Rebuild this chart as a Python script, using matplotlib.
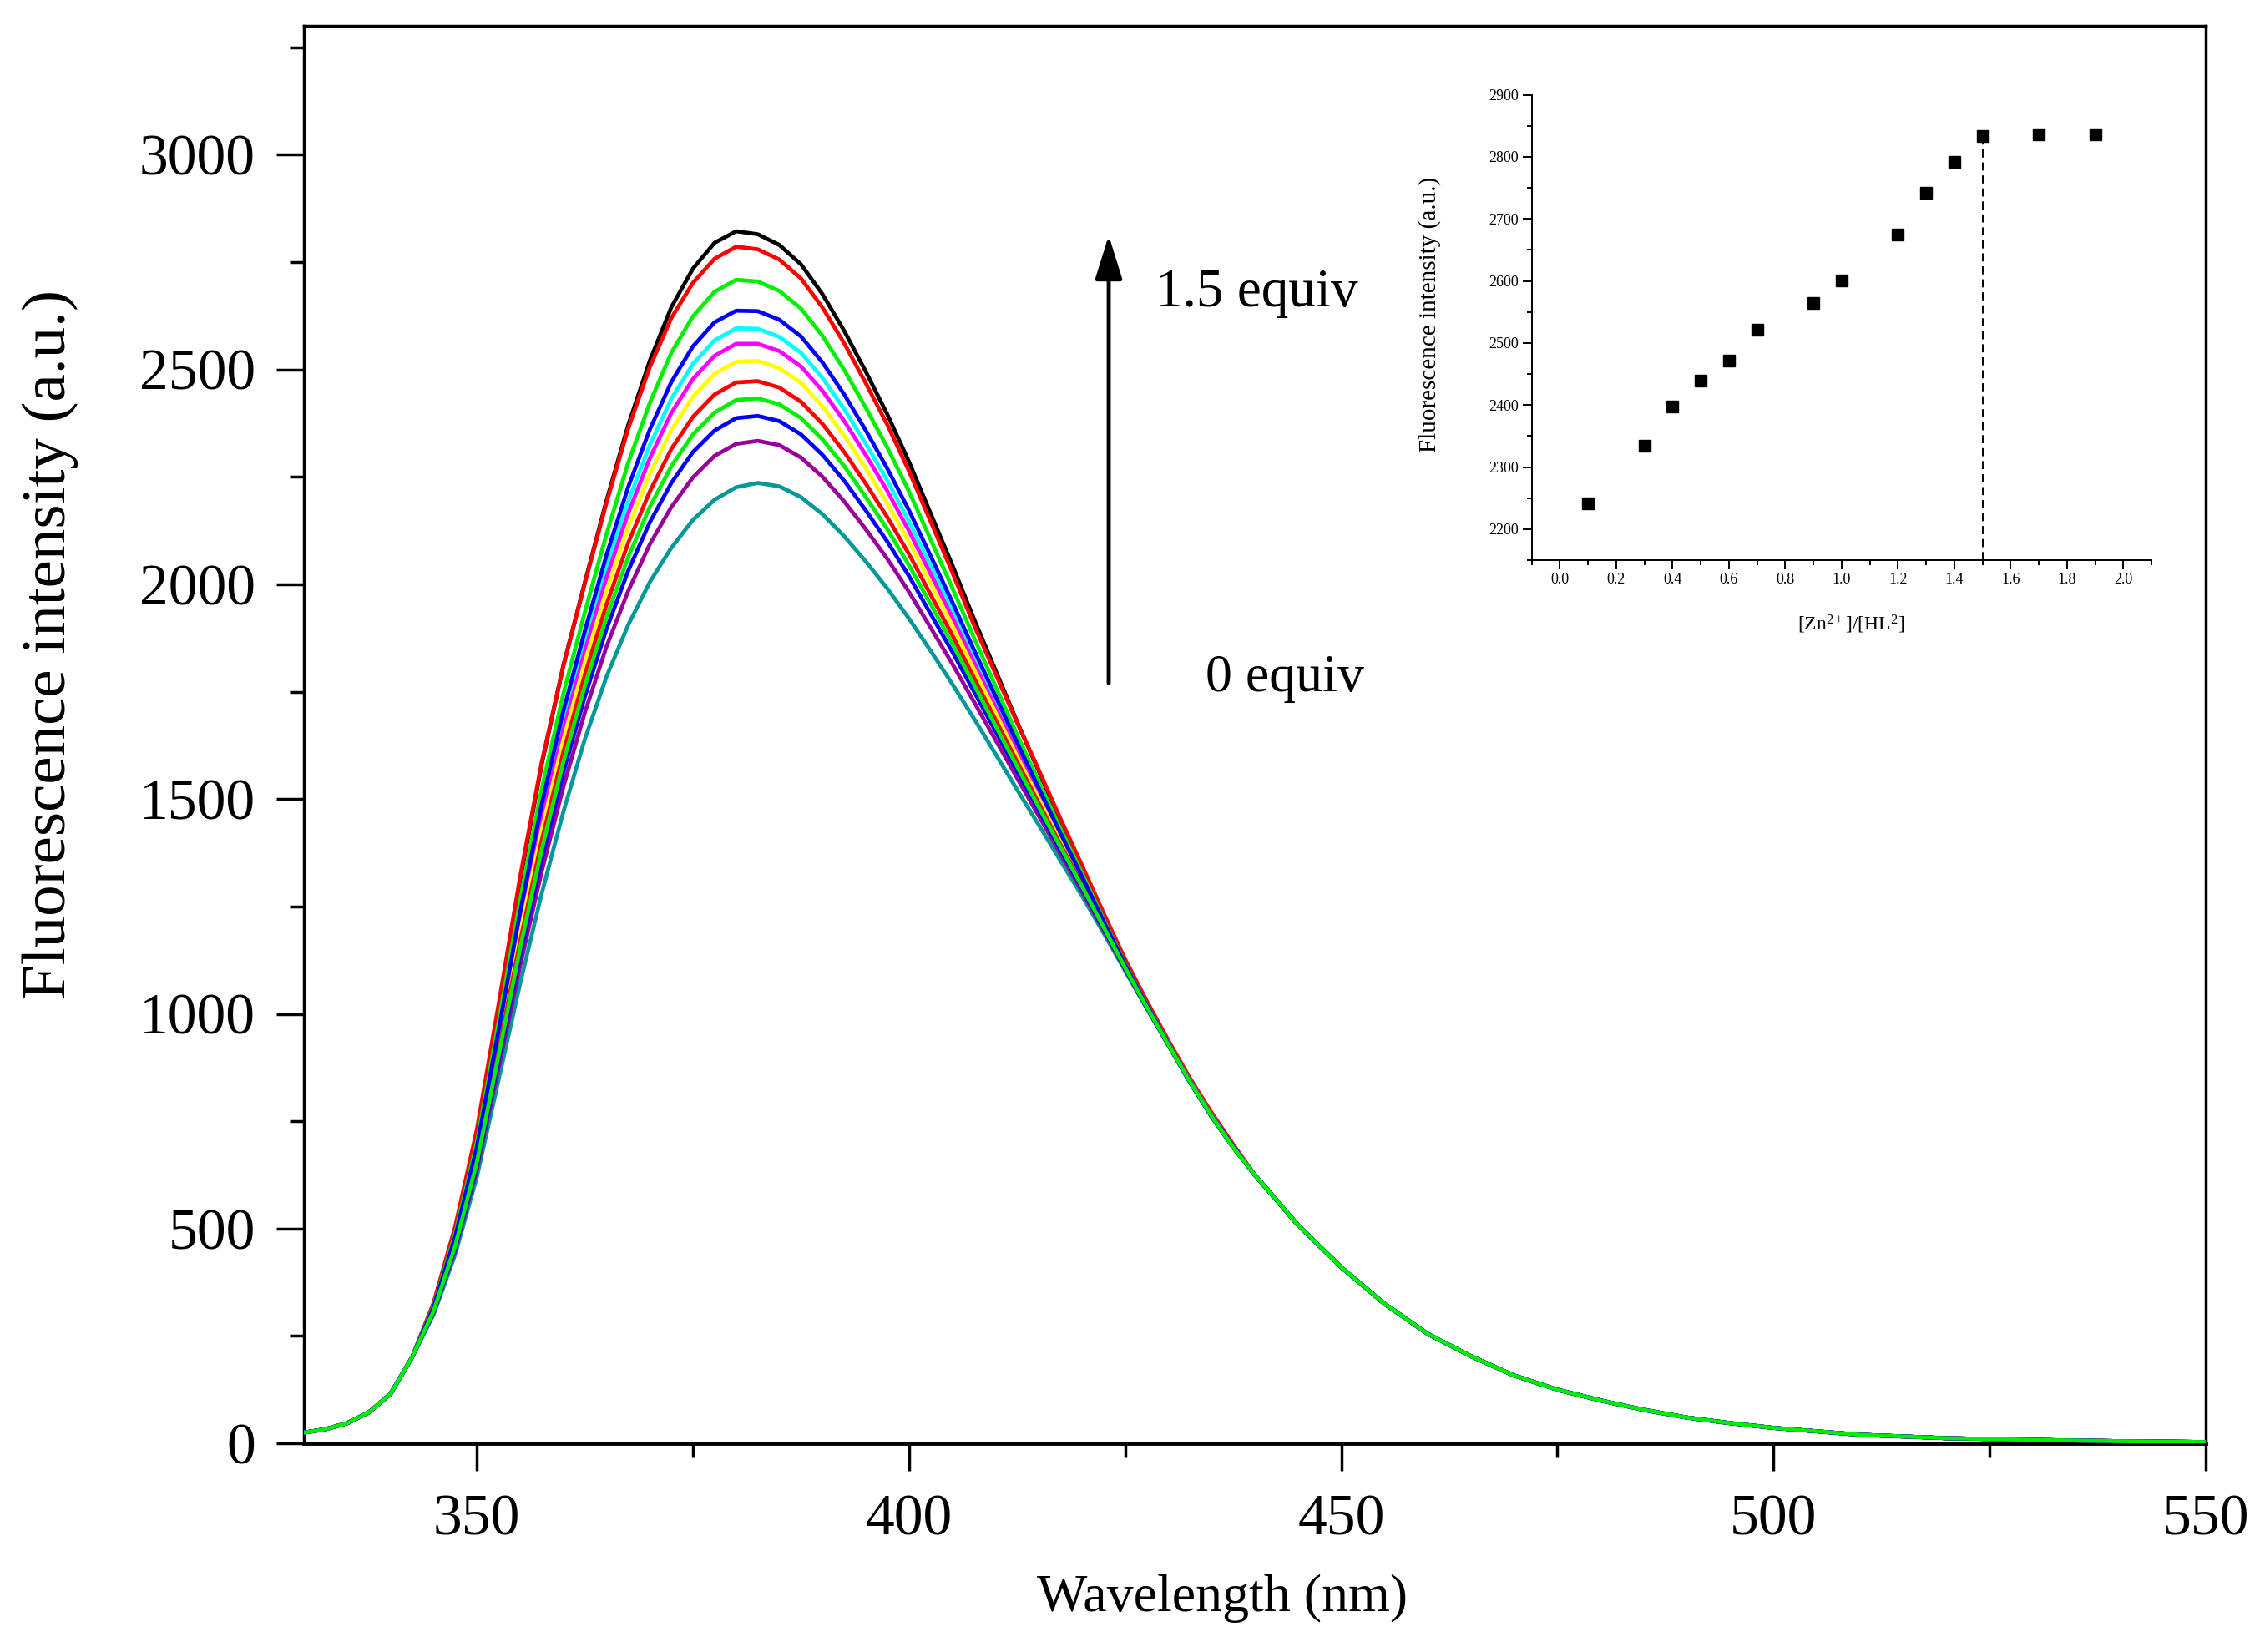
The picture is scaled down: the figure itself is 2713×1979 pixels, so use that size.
import matplotlib
matplotlib.use('Agg')
import matplotlib.pyplot as plt
from matplotlib.ticker import MultipleLocator, FormatStrFormatter

plt.rcParams['font.family'] = ['Liberation Serif', 'DejaVu Serif']
plt.rcParams['mathtext.fontset'] = 'custom'
plt.rcParams['mathtext.rm'] = 'Liberation Serif'
plt.rcParams['mathtext.it'] = 'Liberation Serif:italic'

# ---------------- data: emission spectra ----------------
wl_head = [330, 332.5, 335, 337.5, 340, 342.5]
wl_mid = [345, 347.5, 350, 352.5, 355, 357.5, 360, 362.5, 365, 367.5, 370, 372.5,
          375, 377.5, 380, 382.5, 385, 387.5, 390, 392.5, 395, 397.5, 400, 402.5,
          405, 407.5, 410, 412.5, 415, 417.5, 420, 422.5, 425, 427.5, 430, 432.5,
          435, 437.5]
wl_tail = [440, 445, 450, 455, 460, 465, 470, 475, 480, 485, 490, 495, 500,
           510, 520, 530, 540, 550]

head = [25, 33, 47, 72, 115, 200]
tail = [625, 508, 410, 325, 255, 203, 158, 125, 100, 78, 60, 47, 36, 20, 12, 8, 5, 3]

mid_black = [325, 500, 720, 1010, 1310, 1580, 1810, 2005, 2195, 2370, 2520, 2645,
             2735, 2795, 2822, 2815, 2790, 2745, 2675, 2590, 2495, 2395, 2285, 2165,
             2045, 1920, 1800, 1680, 1565, 1450, 1340, 1228, 1120, 1023, 932, 845, 765, 692]
mid_red = [327, 505, 730, 1020, 1318, 1585, 1810, 2003, 2190, 2362, 2505, 2620,
           2702, 2758, 2786, 2780, 2756, 2712, 2644, 2561, 2468, 2371, 2263, 2146,
           2028, 1906, 1792, 1678, 1568, 1455, 1346, 1235, 1127, 1030, 938, 850, 770, 696]
mid_green = [320, 489, 701, 979, 1264, 1523, 1745, 1936, 2117, 2282, 2422, 2539,
             2624, 2681, 2709, 2705, 2683, 2642, 2578, 2499, 2411, 2318, 2216, 2104,
             1992, 1876, 1763, 1650, 1541, 1432, 1328, 1220, 1116, 1021, 931, 844, 764, 691]
mid_blue = [317, 481, 689, 959, 1236, 1487, 1705, 1892, 2068, 2226, 2360, 2471,
            2554, 2610, 2637, 2636, 2616, 2577, 2516, 2442, 2358, 2269, 2172, 2066,
            1959, 1848, 1740, 1631, 1526, 1421, 1320, 1216, 1114, 1020, 930, 843, 763, 691]
mid_cyan = [315, 477, 682, 947, 1219, 1466, 1681, 1866, 2039, 2193, 2324, 2432,
            2513, 2568, 2596, 2595, 2576, 2539, 2480, 2408, 2327, 2241, 2146, 2043,
            1940, 1832, 1726, 1620, 1517, 1415, 1315, 1213, 1112, 1019, 930, 843, 763, 690]
mid_magenta = [314, 474, 676, 937, 1204, 1448, 1660, 1844, 2015, 2165, 2293, 2399,
               2478, 2532, 2560, 2560, 2543, 2507, 2450, 2380, 2301, 2217, 2124, 2024,
               1923, 1818, 1714, 1610, 1510, 1409, 1311, 1210, 1111, 1018, 929, 843, 763, 690]
mid_yellow = [312, 469, 669, 926, 1188, 1427, 1637, 1819, 1986, 2133, 2257, 2359,
              2437, 2490, 2518, 2520, 2503, 2469, 2414, 2346, 2270, 2188, 2099, 2002,
              1904, 1802, 1701, 1599, 1501, 1403, 1307, 1208, 1110, 1017, 929, 842, 762, 690]
mid_red2 = [310, 465, 661, 913, 1168, 1403, 1609, 1790, 1953, 2096, 2216, 2315,
            2390, 2442, 2470, 2473, 2458, 2425, 2373, 2308, 2234, 2156, 2070, 1976,
            1882, 1783, 1685, 1587, 1491, 1395, 1302, 1204, 1108, 1017, 928, 842, 762, 690]
mid_green2 = [308, 460, 654, 901, 1152, 1382, 1586, 1764, 1924, 2063, 2180, 2275,
              2349, 2400, 2429, 2433, 2419, 2387, 2337, 2275, 2203, 2128, 2044, 1954,
              1862, 1767, 1671, 1576, 1482, 1389, 1297, 1202, 1107, 1016, 928, 842, 762, 689]
mid_blue2 = [307, 456, 647, 890, 1135, 1361, 1562, 1739, 1896, 2031, 2144, 2236,
             2308, 2358, 2387, 2392, 2380, 2349, 2301, 2241, 2172, 2099, 2019, 1931,
             1843, 1751, 1658, 1565, 1474, 1382, 1293, 1199, 1105, 1015, 928, 841, 761, 689]
mid_purple = [304, 450, 637, 873, 1111, 1331, 1528, 1702, 1855, 1984, 2093, 2180,
              2249, 2299, 2327, 2334, 2324, 2295, 2250, 2193, 2128, 2059, 1982, 1899,
              1815, 1727, 1638, 1549, 1461, 1373, 1286, 1195, 1103, 1014, 927, 841, 761, 689]
mid_teal = [300, 440, 620, 845, 1070, 1280, 1470, 1640, 1785, 1905, 2005, 2085,
            2150, 2197, 2226, 2236, 2228, 2203, 2163, 2112, 2053, 1990, 1920, 1845,
            1768, 1688, 1605, 1522, 1440, 1357, 1275, 1188, 1100, 1012, 926, 840, 760, 688]

curves = [mid_black, mid_red, mid_green, mid_blue, mid_cyan, mid_magenta,
          mid_yellow, mid_red2, mid_green2, mid_blue2, mid_purple, mid_teal]
colors = ['#000000', '#ff0000', '#00ee00', '#0000ff', '#00ffff', '#ff00ff',
          '#ffff00', '#ff0000', '#00ee00', '#0000ff', '#990099', '#009999']
zorders = [2.1, 2.2, 2.3, 2.95, 2.4, 2.5, 2.6, 2.7, 3.0, 2.9, 2.8, 2.75]

# ---------------- data: inset titration ----------------
ratio = [0.1, 0.3, 0.4, 0.5, 0.6, 0.7, 0.9, 1.0, 1.2, 1.3, 1.4, 1.5, 1.7, 1.9]
inset_int = [2241, 2334, 2397, 2439, 2472, 2521, 2565, 2601, 2675, 2742, 2792, 2834, 2836, 2836]
equiv_ratio = 1.5

main_xticks = [350, 400, 450, 500, 550]
main_yticks = [0, 500, 1000, 1500, 2000, 2500, 3000]

# ---------------- figure ----------------
fig = plt.figure(figsize=(27.13, 19.79), dpi=100)
ax = fig.add_axes([0.1342, 0.1263, 0.8396, 0.858])

wl = wl_head + wl_mid + wl_tail
for mid, c, z in zip(curves, colors, zorders):
    ax.plot(wl, head + mid + tail, color=c, lw=3.4, zorder=z,
            solid_joinstyle='round', solid_capstyle='round')

ax.set_xlim(330, 550)
ax.set_ylim(0, 3300)
ax.set_xticks(main_xticks)
ax.set_yticks(main_yticks)
ax.xaxis.set_minor_locator(MultipleLocator(25))
ax.yaxis.set_minor_locator(MultipleLocator(250))
ax.tick_params(axis='both', which='major', direction='out', length=24, width=2.5,
               labelsize=50)
ax.tick_params(axis='both', which='minor', direction='out', length=12, width=2.5)
ax.tick_params(axis='x', which='major', pad=20)
ax.tick_params(axis='y', which='major', pad=18)
ax.tick_params(top=False, right=False, which='both')
for s in ['left', 'top', 'right']:
    ax.spines[s].set_linewidth(2.5)
ax.spines['bottom'].set_linewidth(3.5)

fig.text(0.5396, 0.0323, 'Wavelength (nm)', fontsize=46, ha='center', va='center')
fig.text(0.0221, 0.610, 'Fluorescence intensity (a.u.)', fontsize=54,
         rotation=90, ha='center', va='center')

# arrow and labels
ax.annotate('', xy=(423.1, 2812), xytext=(423.1, 1770),
            arrowprops=dict(arrowstyle='-|>,head_length=0.8,head_width=0.25',
                            mutation_scale=40, lw=3.5, color='black',
                            shrinkA=0, shrinkB=0))
ax.text(428.5, 2678, '1.5 equiv', fontsize=47, ha='left', va='center')
ax.text(434.3, 1780, '0 equiv', fontsize=46, ha='left', va='center')

# ---------------- inset ----------------
axi = fig.add_axes([0.6762, 0.6609, 0.2737, 0.2817])
axi.plot(ratio, inset_int, 's', color='black', markersize=9.5, zorder=3)
eq_y = inset_int[ratio.index(equiv_ratio)]
axi.plot([equiv_ratio, equiv_ratio], [2150, eq_y], color='black', lw=1.4,
         ls=(0, (5, 3)), zorder=2)
axi.set_xlim(-0.1, 2.1)
axi.set_ylim(2150, 2900)
axi.xaxis.set_major_locator(MultipleLocator(0.2))
axi.xaxis.set_minor_locator(MultipleLocator(0.1))
axi.xaxis.set_major_formatter(FormatStrFormatter('%.1f'))
axi.yaxis.set_major_locator(MultipleLocator(100))
axi.yaxis.set_minor_locator(MultipleLocator(50))
axi.set_yticks(range(2200, 2901, 100))
axi.tick_params(which='major', direction='out', length=8, width=1.4,
                labelsize=13, pad=3)
axi.tick_params(which='minor', direction='out', length=4, width=1.4)
axi.spines['top'].set_visible(False)
axi.spines['right'].set_visible(False)
axi.spines['left'].set_linewidth(1.4)
axi.spines['bottom'].set_linewidth(1.4)
axi.patch.set_alpha(0)
axi.text(-0.164, 0.527, 'Fluorescence intensity (a.u.)', fontsize=21,
         rotation=90, ha='center', va='center', transform=axi.transAxes)
axi.text(0.515, -0.138, r'[Zn$^{2+}$]/[HL$^{2}$]', fontsize=17,
         ha='center', va='center', transform=axi.transAxes)

fig.savefig('out.png', dpi=100)
